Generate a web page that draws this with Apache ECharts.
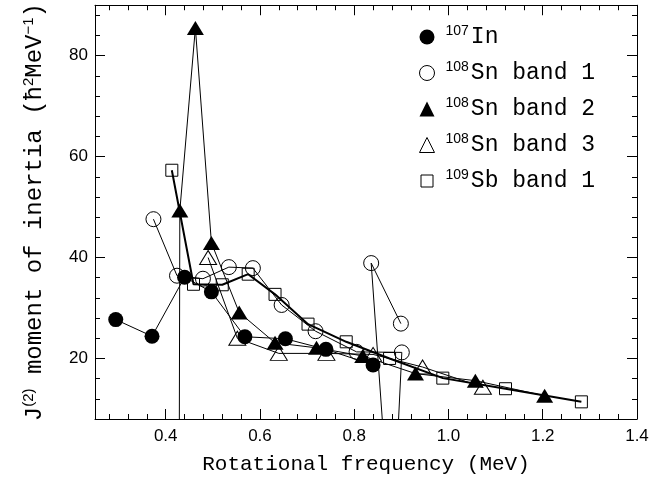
<!DOCTYPE html>
<html style="height: 100%">
<head>
    <meta charset="utf-8">
    <title>J2 moment of inertia</title>
</head>
<body style="height: 100%; margin: 0; background: #fff">
<div id="container" style="width: 652px; height: 484px"></div>
<script type="text/javascript" src="https://cdn.jsdelivr.net/npm/echarts@6/dist/echarts.min.js"></script>
<script type="text/javascript">
    // values
    var inX = [0.294, 0.371, 0.44, 0.497, 0.568, 0.654, 0.74, 0.84];
    var inY = [27.7, 24.4, 36.1, 33.2, 24.3, 23.9, 21.8, 18.7];

    var sn1X = [0.374, 0.424, 0.479, 0.534, 0.585, 0.646, 0.718, 0.805, 0.901, 0.88, 0.836, 0.899];
    var sn1Y = [47.6, 36.4, 35.8, 38.1, 37.9, 30.6, 25.4, 21.3, 21.2, -19, 38.9, 26.9];

    var sn2X = [0.428, 0.43, 0.463, 0.497, 0.556, 0.632, 0.72, 0.818, 0.93, 1.057, 1.204];
    var sn2Y = [-30, 49.3, 85.5, 42.9, 29.1, 23.1, 22.1, 20.5, 17.0, 15.6, 12.6];

    var sn3X = [0.49, 0.552, 0.64, 0.741, 0.84, 0.945, 1.073];
    var sn3Y = [40.0, 24.0, 21.0, 21.0, 20.8, 18.3, 14.3];

    var sbX = [0.413, 0.459, 0.52, 0.575, 0.632, 0.702, 0.783, 0.875, 0.988, 1.121, 1.282];
    var sbY = [57.3, 34.7, 34.6, 36.7, 32.7, 26.8, 23.3, 20.0, 16.1, 14.0, 11.4];

    var legendSup = ['107', '108', '108', '108', '109'];
    var legendMain = ['In', 'Sn band 1', 'Sn band 2', 'Sn band 3', 'Sb band 1'];

    var xTicks = [0.4, 0.6, 0.8, 1.0, 1.2, 1.4];
    var yTicks = [20, 40, 60, 80];

    var xMinor = [];
    for (var i = 7; i <= 35; i++) xMinor.push(+(i * 0.04).toFixed(2));
    var yMinor = [];
    for (var j = 3; j <= 22; j++) yMinor.push(j * 4);

    function pairs(xs, ys) {
        return xs.map(function (x, k) { return [x, ys[k]]; });
    }

    var mono = 'Liberation Mono';
    var sans = 'Liberation Sans';
    var black = '#000';

    function xAx(pos, ticks, len, labels) {
        return {
            type: 'value', position: pos, min: 0.25, max: 1.4,
            axisLine: {show: len > 6, onZero: false, lineStyle: {color: black, width: 1}},
            axisTick: {inside: true, length: len, customValues: ticks, lineStyle: {color: black}},
            axisLabel: labels ? {
                customValues: ticks, color: black, fontFamily: sans, fontSize: 17, margin: 9,
                formatter: function (v) { return v.toFixed(1); }
            } : {show: false},
            splitLine: {show: false}
        };
    }
    function yAx(pos, ticks, len, labels) {
        return {
            type: 'value', position: pos, min: 8, max: 90,
            axisLine: {show: len > 6, onZero: false, lineStyle: {color: black, width: 1}},
            axisTick: {inside: true, length: len, customValues: ticks, lineStyle: {color: black}},
            axisLabel: labels ? {customValues: ticks, color: black, fontFamily: sans, fontSize: 17, margin: 7} : {show: false},
            splitLine: {show: false}
        };
    }

    var xAxes = [xAx('bottom', xTicks, 10, true), xAx('bottom', xMinor, 5), xAx('top', xTicks, 10), xAx('top', xMinor, 5)];
    xAxes[0].name = 'Rotational frequency (MeV)';
    xAxes[0].nameLocation = 'middle';
    xAxes[0].nameGap = 35;
    xAxes[0].nameTextStyle = {fontFamily: mono, fontSize: 21, color: black};

    var yAxes = [yAx('left', yTicks, 10, true), yAx('left', yMinor, 5), yAx('right', yTicks, 10), yAx('right', yMinor, 5)];
    yAxes[0].name = '{m|J}{s|(2)}{m| moment of inertia (ħ}{s|2}{m|MeV}{s|−1}{m|)}';
    yAxes[0].nameLocation = 'middle';
    yAxes[0].nameGap = 47;
    yAxes[0].nameRotate = 90;
    yAxes[0].nameTextStyle = {
        color: black,
        rich: {
            m: {fontFamily: mono, fontSize: 24, lineHeight: 27, color: black},
            s: {fontFamily: sans, fontSize: 15, lineHeight: 20, verticalAlign: 'top', color: black}
        }
    };

    var filled = {color: black};
    var hollow = {color: 'none', borderColor: black, borderWidth: 1};
    var styles = [filled, hollow, filled, hollow, hollow];
    var symbols = ['circle', 'circle', 'triangle', 'triangle', 'rect'];
    var sizes = [15, 15, [17, 14], [17, 14], 12];
    var widths = [1, 1, 1, 1, 2];
    var icons = ['circle', 'circle', 'triangle', 'triangle', 'path://M0,0L0,0M15,15L15,15M1.5,1.5L13.5,1.5L13.5,13.5L1.5,13.5Z'];
    var sets = [pairs(inX, inY), pairs(sn1X, sn1Y), pairs(sn2X, sn2Y), pairs(sn3X, sn3Y), pairs(sbX, sbY)];
    var names = legendSup.map(function (s, k) { return s + legendMain[k]; });

    var series = sets.map(function (d, k) {
        return {
            type: 'line', name: names[k], data: d,
            symbol: symbols[k], symbolSize: sizes[k], showAllSymbol: true,
            itemStyle: styles[k],
            lineStyle: {color: black, width: widths[k]},
            clip: true, silent: true, animation: false,
            emphasis: {disabled: true}
        };
    });

    var myChart = echarts.init(document.getElementById('container'));
    myChart.setOption({
        backgroundColor: '#fff',
        grid: {left: 95, right: 15, top: 1, bottom: 65},
        xAxis: xAxes,
        yAxis: yAxes,
        legend: {
            orient: 'vertical', left: 412, top: 19, itemGap: 11.5,
            itemWidth: 15, itemHeight: 15, selectedMode: false,
            data: names.map(function (n, k) {
                return {name: n, icon: icons[k], itemStyle: styles[k]};
            }),
            formatter: function (n) {
                var k = names.indexOf(n);
                return '{s|' + legendSup[k] + '}{m|' + legendMain[k] + '}';
            },
            textStyle: {
                rich: {
                    m: {fontFamily: mono, fontSize: 23, lineHeight: 26, color: black},
                    s: {fontFamily: sans, fontSize: 14, lineHeight: 20, verticalAlign: 'top', color: black, padding: [0, 2, 0, 6]}
                }
            }
        },
        series: series
    });
</script>
</body>
</html>
